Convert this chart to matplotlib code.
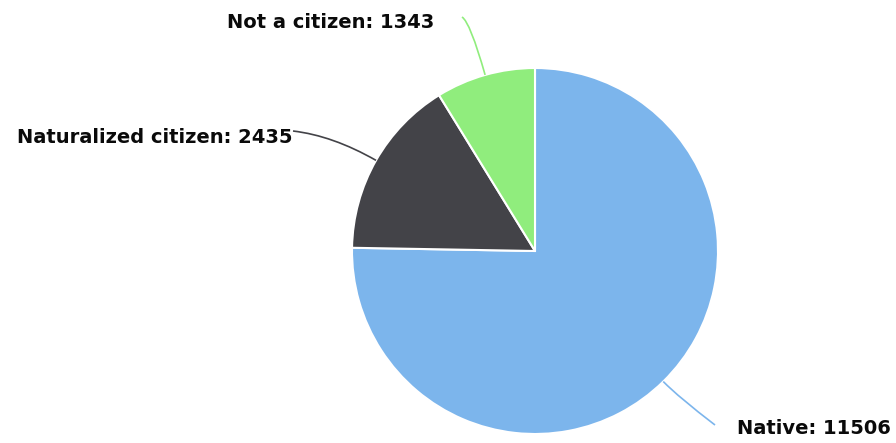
import numpy as np
import matplotlib.pyplot as plt
from matplotlib.path import Path
from matplotlib.patches import PathPatch

# citizenship breakdown
labels = ['Native', 'Naturalized citizen', 'Not a citizen']
values = [11506, 2435, 1343]
colors = ['#7cb5ec', '#434348', '#90ed7d']

W, H = 896, 443
cx, cy, r = 535, H - 251, 183

fig = plt.figure(figsize=(W / 100, H / 100), dpi=100)
ax = fig.add_axes([0, 0, 1, 1])
ax.set_xlim(0, W)
ax.set_ylim(0, H)
ax.set_aspect('equal')
ax.axis('off')

wedges, _ = ax.pie(values, colors=colors, startangle=90, counterclock=False,
                   center=(cx, cy), radius=r, frame=True,
                   wedgeprops=dict(edgecolor='white', linewidth=1.5))
ax.set_xlim(0, W)
ax.set_ylim(0, H)
ax.axis('off')

# label end points (pixels from top-left), alignment, connector stretch
label_pos = [(737, 428, 'left', 22), (292, 137, 'right', 50), (434, 22, 'right', 55)]
line_end = [(715, 425), (293, 131), (462, 17)]

for w, lab, val, col, (lx, ly, ha, ext), (ex, ey) in zip(wedges, labels, values, colors, label_pos, line_end):
    mid = np.deg2rad((w.theta1 + w.theta2) / 2)
    p0 = (cx + r * np.cos(mid), cy + r * np.sin(mid))
    p1 = (cx + (r + ext) * np.cos(mid), cy + (r + ext) * np.sin(mid))
    p2 = (ex, H - ey)
    path = Path([p0, p1, p2], [Path.MOVETO, Path.CURVE3, Path.CURVE3])
    ax.add_patch(PathPatch(path, facecolor='none', edgecolor=col, lw=1.2))
    ax.text(lx, H - ly, f'{lab}: {val}', ha=ha, va='center',
            fontsize=14, fontweight='bold', color='#0a0a0a', family='DejaVu Sans')

fig.savefig('out.png', dpi=100, facecolor='white')
